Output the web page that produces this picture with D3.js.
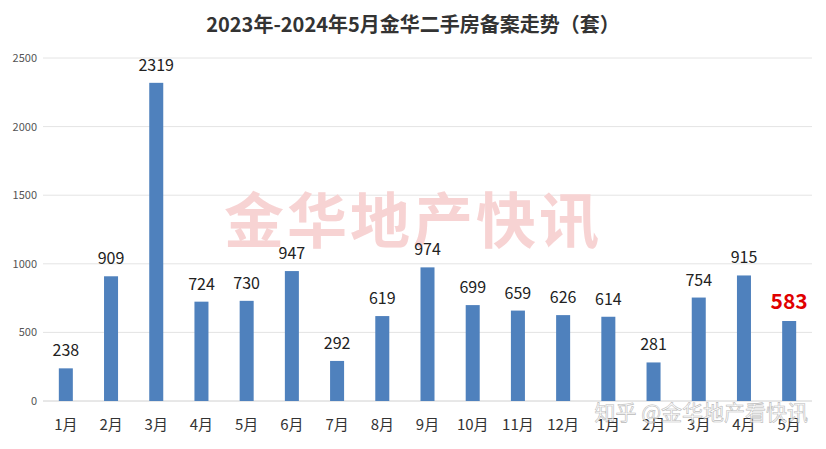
<!DOCTYPE html>
<html><head><meta charset="utf-8">
<script src="https://cdn.jsdelivr.net/npm/d3@7"></script>
<style>body{margin:0;background:#fff}</style></head>
<body><svg id="c" width="826" height="449"></svg>
<script>
const categories=["1月","2月","3月","4月","5月","6月","7月","8月","9月","10月","11月","12月","1月","2月","3月","4月","5月"];
const values=[238,909,2319,724,730,947,292,619,974,699,659,626,614,281,754,915,583];
const yTicks=[0,500,1000,1500,2000,2500];
const title="2023年-2024年5月金华二手房备案走势（套）";
const svg=d3.select("#c");
const F="'Noto Sans CJK SC','Noto Sans',sans-serif";
const x=d3.scaleBand().domain(d3.range(categories.length)).range([43,812]).paddingInner(0.69).paddingOuter(0.35);
const y=d3.scaleLinear().domain([0,2500]).range([401,58]);
svg.append("g").selectAll("line").data(yTicks).join("line")
 .attr("x1",43).attr("x2",812).attr("y1",d=>y(d)).attr("y2",d=>y(d))
 .attr("stroke",(d)=>d===0?"#d0d0d0":"#e4e4e4");
svg.append("g").selectAll("text").data(yTicks).join("text")
 .attr("x",37).attr("y",d=>y(d)+4).attr("text-anchor","end").attr("font-size",11).attr("font-family",F).attr("fill","#555").text(d=>d);
svg.append("text").attr("x",413).attr("y",243).attr("text-anchor","middle").attr("font-size",60).attr("font-weight","bold").attr("font-family",F).attr("fill","#f7d3d3").attr("letter-spacing",3).text("金华地产快讯");
svg.append("g").selectAll("rect").data(values).join("rect")
 .attr("x",(d,i)=>x(i)).attr("width",x.bandwidth()).attr("y",d=>y(d)).attr("height",d=>401-y(d)).attr("fill","#4f81bd");
svg.append("g").selectAll("text").data(values).join("text")
 .attr("x",(d,i)=>x(i)+x.bandwidth()/2).attr("y",d=>y(d)-12)
 .attr("text-anchor","middle").attr("font-family",F)
 .attr("font-size",(d,i)=>i===values.length-1?21:16)
 .attr("font-weight",(d,i)=>i===values.length-1?"bold":"normal")
 .attr("fill",(d,i)=>i===values.length-1?"#e00000":"#222").text(d=>d);
svg.append("g").selectAll("text").data(categories).join("text")
 .attr("x",(d,i)=>x(i)+x.bandwidth()/2).attr("y",430).attr("text-anchor","middle").attr("font-size",15).attr("font-family",F).attr("fill","#333").text(d=>d);
svg.append("text").attr("x",413).attr("y",32).attr("text-anchor","middle").attr("font-size",20).attr("font-weight","bold").attr("font-family",F).attr("fill","#333").text(title);
svg.append("text").attr("x",808).attr("y",420).attr("text-anchor","end").attr("font-size",21).attr("font-family",F).attr("fill","#fff").attr("stroke","#aaa").attr("stroke-width",0.6).attr("opacity",0.8).text("知乎 @金华地产看快讯");
</script></body></html>
